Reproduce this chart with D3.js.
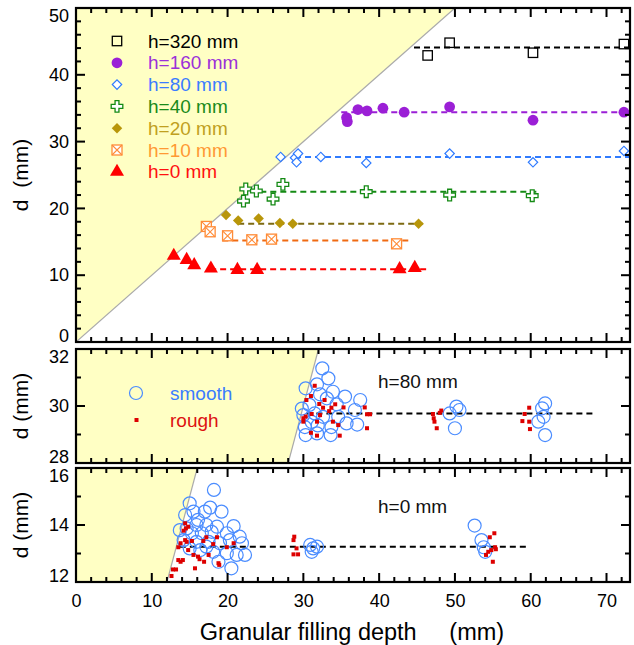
<!DOCTYPE html>
<html>
<head>
<meta charset="utf-8">
<script src="https://cdn.jsdelivr.net/npm/d3@7"></script>
<style>
  body { margin: 0; background: #fff; }
  text { font-family: "Liberation Sans", Arial, sans-serif; }
</style>
</head>
<body>
<div id="chart"></div>
<script>
// ---- data ----
const seriesNames = ["h=320 mm", "h=160 mm", "h=80 mm", "h=40 mm", "h=20 mm", "h=10 mm", "h=0 mm"];

const h320 = [[46.4, 42.9], [49.3, 44.8], [60.3, 43.3], [72.3, 44.6]];
const h160 = [[35.7, 33.6], [35.8, 33.0], [37.2, 34.8], [38.4, 34.6], [40.5, 35.0], [43.3, 34.4], [49.3, 35.2], [60.3, 33.2], [72.3, 34.4]];
const h80 = [[27.0, 27.7], [28.9, 27.6], [29.3, 28.2], [29.1, 26.9], [32.3, 27.7], [38.3, 26.8], [49.3, 28.2], [60.3, 26.9], [72.3, 28.6]];
const h40 = [[22.4, 22.9], [23.8, 22.6], [22.1, 21.1], [26.0, 21.4], [27.3, 23.6], [38.3, 22.5], [49.3, 22.0], [60.2, 21.9]];
const h20 = [[19.8, 19.0], [21.4, 18.2], [24.1, 18.5], [26.9, 17.8], [28.6, 17.7], [45.2, 17.7]];
const h10 = [[17.2, 17.3], [17.7, 16.5], [20.0, 15.9], [23.2, 15.3], [25.8, 15.4], [42.3, 14.7]];
const h0 = [[12.9, 12.9], [14.6, 12.3], [15.6, 11.5], [17.8, 11.0], [21.3, 10.8], [23.9, 10.8], [42.7, 10.9], [44.7, 11.1]];

// mean lines: [d, xStart, xEnd]
const meanLines = [[44.1, 44.6, 73], [34.4, 35.0, 73], [27.7, 28.9, 73], [22.5, 23.0, 60.8], [17.7, 21.4, 45.8], [15.2, 19.3, 44.1], [10.9, 17.7, 46.2]];

// h=80 mm panel
const smooth80 = [[32.5, 31.32], [33.3, 30.97], [31.8, 30.76], [30.3, 30.62], [33.9, 30.5], [35.5, 30.33], [37.5, 30.21], [32.2, 30.41],
  [30.8, 30.04], [33.1, 30.27], [34.4, 30.06], [36.8, 29.86], [30.0, 29.68], [31.5, 29.74], [32.6, 29.62], [34.6, 29.62],
  [35.7, 29.39], [37.1, 29.35], [30.2, 29.26], [31.9, 29.32], [33.7, 29.26], [30.3, 28.98], [31.8, 29.04], [33.6, 28.98],
  [31.1, 29.44], [29.8, 29.91],
  [50.2, 29.98], [50.6, 29.86], [49.3, 29.74], [50.0, 29.22],
  [61.9, 30.09], [61.5, 29.92], [61.7, 29.62], [61.0, 29.45], [61.9, 28.98]];
const rough80 = [[31.5, 30.71], [31.0, 30.35], [30.4, 30.21], [32.8, 30.21], [32.1, 30.07], [32.6, 29.94], [33.7, 29.94], [33.4, 29.82],
  [35.3, 29.95], [34.2, 30.06], [32.2, 29.68], [31.1, 29.72], [30.3, 29.63], [30.0, 29.57], [30.0, 29.45], [31.8, 29.45],
  [33.9, 29.45], [34.6, 29.33], [31.0, 29.06], [31.8, 28.96], [34.8, 28.96], [38.4, 29.22], [38.1, 29.95], [38.8, 29.71], [38.4, 29.71],
  [47.1, 29.72], [47.2, 29.57], [47.3, 29.45], [47.6, 29.22], [48.2, 29.84], [48.0, 29.76],
  [59.8, 29.94], [59.2, 29.72], [58.9, 29.47], [59.8, 29.45], [59.9, 29.19]];
const mean80 = [29.74, 30.4, 68.5];

// h=0 mm panel
const smooth0 = [[18.2, 15.23], [15.0, 14.76], [15.5, 14.47], [17.0, 14.47], [19.2, 14.47], [17.7, 14.61], [14.4, 14.35], [16.1, 14.18],
  [14.6, 13.88], [15.9, 14.0], [17.2, 14.0], [18.6, 13.94], [20.8, 13.96], [13.7, 13.82], [15.3, 13.71], [16.6, 13.71],
  [17.9, 13.76], [19.9, 13.71], [21.6, 13.59], [14.2, 13.47], [15.9, 13.41], [17.5, 13.41], [19.0, 13.36], [20.3, 13.47],
  [21.9, 13.36], [15.0, 13.18], [16.4, 13.12], [18.1, 13.06], [19.9, 13.01], [21.2, 12.95], [22.3, 12.95], [18.8, 12.71],
  [20.5, 12.48], [17.2, 13.24],
  [30.9, 13.3], [31.3, 13.18], [31.8, 13.24], [31.1, 13.06],
  [52.6, 13.98], [53.5, 13.47], [53.8, 13.22], [54.0, 13.06]];
const rough0 = [[12.6, 12.21], [12.8, 12.44], [13.2, 12.44], [13.5, 12.77], [13.8, 12.71], [14.1, 12.77], [13.5, 13.22], [13.8, 13.36],
  [14.4, 13.47], [14.6, 13.41], [14.2, 13.8], [14.5, 13.88], [14.8, 13.94], [14.4, 14.06], [15.3, 13.44], [14.8, 13.12],
  [15.5, 12.95], [15.7, 12.48], [16.1, 12.89], [16.3, 12.8], [16.9, 12.71], [16.8, 13.44], [17.2, 13.57], [17.5, 12.95],
  [18.1, 13.33], [18.6, 13.57], [18.8, 12.66], [18.9, 12.6], [19.9, 13.22], [20.8, 13.36],
  [28.8, 13.59], [28.7, 13.47], [29.1, 13.18], [28.7, 12.97], [29.3, 12.97],
  [55.2, 13.71], [54.6, 13.57], [55.3, 13.22], [54.8, 13.12], [54.4, 13.06], [54.1, 12.95], [55.0, 12.71], [55.4, 13.15]];
const mean0 = [13.24, 13.7, 59.5];

const xTicks = [0, 10, 20, 30, 40, 50, 60, 70];
const yTicksTop = [0, 10, 20, 30, 40, 50];
const yTicksMid = [28, 30, 32];
const yTicksBot = [12, 14, 16];

// ---- layout ----
const W = 634, H = 645;
const L = 76, R = 630;
const svg = d3.select("#chart").append("svg").attr("width", W).attr("height", H);

const x = d3.scaleLinear().domain([0, 73.1]).range([L, R]);

const panels = [
  { top: 8, bottom: 342, dom: [0, 50], major: yTicksTop, minorStep: 2 },
  { top: 349, bottom: 463, dom: [28, 32], major: yTicksMid, minorStep: 1 },
  { top: 468, bottom: 582, dom: [12, 16], major: yTicksBot, minorStep: 1 }
];
panels.forEach(p => { p.y = d3.scaleLinear().domain(p.dom).range([p.bottom, p.top]); });

const clipIds = panels.map((p, i) => {
  svg.append("clipPath").attr("id", "clip" + i).append("rect")
    .attr("x", L).attr("y", p.top).attr("width", R - L).attr("height", p.bottom - p.top);
  return "url(#clip" + i + ")";
});

// yellow region d > x and diagonal line
panels.forEach((p, i) => {
  const g = svg.append("g").attr("clip-path", clipIds[i]);
  const d0 = p.dom[0], d1 = p.dom[1];
  g.append("path")
    .attr("d", `M${x(0)},${p.y(d0)} L${x(d0)},${p.y(d0)} L${x(d1)},${p.y(d1)} L${x(0)},${p.y(d1)} Z`)
    .attr("fill", "#ffffc4");
  g.append("line")
    .attr("x1", x(d0)).attr("y1", p.y(d0)).attr("x2", x(d1)).attr("y2", p.y(d1))
    .attr("stroke", "#aaa").attr("stroke-width", 1.2);
});

// ---- top panel series ----
const P0 = panels[0];
const colors = {
  marker: ["#000", "#9b1fd6", "#2f7bff", "#148a14", "#b8960a", "#ff8c38", "#ff0000"],
  line: ["#000", "#9b1fd6", "#2f7bff", "#148a14", "#7d6a12", "#f06a12", "#ff0000"],
  text: ["#000", "#9b30d9", "#3a7cff", "#1a8a1a", "#c0a020", "#ff9933", "#ff1010"]
};
const allSeries = [h320, h160, h80, h40, h20, h10, h0];

const gTop = svg.append("g").attr("clip-path", clipIds[0]);
meanLines.forEach((m, i) => {
  gTop.append("line")
    .attr("x1", x(m[1])).attr("x2", x(m[2])).attr("y1", P0.y(m[0])).attr("y2", P0.y(m[0]))
    .attr("stroke", colors.line[i]).attr("stroke-width", 2).attr("stroke-dasharray", "6,4");
});

function drawMarker(g, i, cx, cy) {
  const c = colors.marker[i];
  const t = `translate(${cx},${cy})`;
  if (i === 0) {
    g.append("rect").attr("x", cx - 4.7).attr("y", cy - 4.7).attr("width", 9.4).attr("height", 9.4)
      .attr("fill", "none").attr("stroke", c).attr("stroke-width", 1.3);
  } else if (i === 1) {
    g.append("circle").attr("cx", cx).attr("cy", cy).attr("r", 5.4).attr("fill", c);
  } else if (i === 2) {
    g.append("path").attr("d", d3.symbol(d3.symbolSquare, 44)()).attr("transform", t + " rotate(45)")
      .attr("fill", "#fff").attr("stroke", c).attr("stroke-width", 1.2);
  } else if (i === 3) {
    g.append("path").attr("d", d3.symbol(d3.symbolCross, 75)()).attr("transform", t)
      .attr("fill", "#fff").attr("stroke", c).attr("stroke-width", 1.3);
  } else if (i === 4) {
    g.append("path").attr("d", d3.symbol(d3.symbolSquare, 55)()).attr("transform", t + " rotate(45)")
      .attr("fill", c);
  } else if (i === 5) {
    g.append("rect").attr("x", cx - 5).attr("y", cy - 5).attr("width", 10).attr("height", 10)
      .attr("fill", "#fff").attr("stroke", c).attr("stroke-width", 1.3);
    g.append("path").attr("d", `M${cx - 5},${cy - 5}L${cx + 5},${cy + 5}M${cx + 5},${cy - 5}L${cx - 5},${cy + 5}`)
      .attr("stroke", c).attr("stroke-width", 1.1);
  } else {
    g.append("path").attr("d", d3.symbol(d3.symbolTriangle, 85)()).attr("transform", t)
      .attr("fill", c);
  }
}

allSeries.forEach((s, i) => {
  s.forEach(d => drawMarker(gTop, i, x(d[0]), P0.y(d[1])));
});

// legend
seriesNames.forEach((name, i) => {
  const yy = 41 + i * 21.8;
  drawMarker(svg, i, 117, yy);
  svg.append("text").attr("x", 148).attr("y", yy + 6.5).attr("font-size", 19)
    .attr("fill", colors.text[i]).text(name);
});

// ---- scatter panels ----
function drawScatter(p, idx, smooth, rough, mean, label) {
  const g = svg.append("g").attr("clip-path", clipIds[idx]);
  g.append("line")
    .attr("x1", x(mean[1])).attr("x2", x(mean[2])).attr("y1", p.y(mean[0])).attr("y2", p.y(mean[0]))
    .attr("stroke", "#000").attr("stroke-width", 2).attr("stroke-dasharray", "6,4");
  g.selectAll("circle.s").data(smooth).join("circle")
    .attr("cx", d => x(d[0])).attr("cy", d => p.y(d[1])).attr("r", 6.5)
    .attr("fill", "none").attr("stroke", "#4a8cff").attr("stroke-width", 1.2);
  g.selectAll("rect.r").data(rough).join("rect")
    .attr("x", d => x(d[0]) - 2).attr("y", d => p.y(d[1]) - 2).attr("width", 4).attr("height", 4)
    .attr("fill", "#dd0000");
  svg.append("text").attr("x", 378).attr("y", label[1]).attr("font-size", 19).attr("fill", "#111").text(label[0]);
}
drawScatter(panels[1], 1, smooth80, rough80, mean80, ["h=80 mm", 388]);
drawScatter(panels[2], 2, smooth0, rough0, mean0, ["h=0 mm", 513]);

// legend of middle panel
svg.append("circle").attr("cx", 136).attr("cy", 393).attr("r", 6.5)
  .attr("fill", "none").attr("stroke", "#4a8cff").attr("stroke-width", 1.2);
svg.append("text").attr("x", 170).attr("y", 399.5).attr("font-size", 19).attr("fill", "#3a7cff").text("smooth");
svg.append("rect").attr("x", 134.5).attr("y", 418).attr("width", 4).attr("height", 4).attr("fill", "#dd0000");
svg.append("text").attr("x", 170).attr("y", 426.5).attr("font-size", 19).attr("fill", "#dd1111").text("rough");

// ---- axes and frames ----
const xMinor = d3.range(0, 73.1, 2).filter(v => v % 10 !== 0);

panels.forEach((p, i) => {
  const yMinor = d3.range(p.dom[0], p.dom[1] + 0.01, p.minorStep).filter(v => !p.major.includes(v));
  const isLast = i === panels.length - 1;

  svg.append("rect").attr("x", L).attr("y", p.top).attr("width", R - L).attr("height", p.bottom - p.top)
    .attr("fill", "none").attr("stroke", "#000").attr("stroke-width", 2.2);

  // inward ticks on all four sides
  const tk = svg.append("g").attr("fill", "#000");
  [[xTicks, 9], [xMinor, 5]].forEach(([vals, len]) => {
    const inside = vals.filter(v => x(v) > L + 1 && x(v) < R - 1);
    inside.forEach(v => {
      tk.append("rect").attr("x", x(v) - 1).attr("y", p.bottom - len).attr("width", 2).attr("height", len);
      tk.append("rect").attr("x", x(v) - 1).attr("y", p.top).attr("width", 2).attr("height", len);
    });
  });
  [[p.major, 9], [yMinor, 5]].forEach(([vals, len]) => {
    const inner = vals.filter(v => v > p.dom[0] && v < p.dom[1]);
    inner.forEach(v => {
      tk.append("rect").attr("x", L).attr("y", p.y(v) - 1).attr("width", len).attr("height", 2);
      tk.append("rect").attr("x", R - len).attr("y", p.y(v) - 1).attr("width", len).attr("height", 2);
    });
  });

  // labels through d3 axes (no tick lines)
  const gy = svg.append("g").attr("transform", `translate(${L},0)`)
    .call(d3.axisLeft(p.y).tickValues(p.major).tickSize(0).tickPadding(7).tickFormat(d3.format("d")));
  gy.select(".domain").remove();
  gy.selectAll(".tick text").attr("font-size", 18).attr("fill", "#000")
    .attr("font-family", "Liberation Sans, Arial, sans-serif")
    .attr("dy", d => d === p.dom[1] ? "0.75em" : d === p.dom[0] ? "-0.05em" : "0.32em");

  if (isLast) {
    const gx = svg.append("g").attr("transform", `translate(0,${p.bottom})`)
      .call(d3.axisBottom(x).tickValues(xTicks).tickSize(0).tickPadding(12).tickFormat(d3.format("d")));
    gx.select(".domain").remove();
    gx.selectAll(".tick text").attr("font-size", 18).attr("fill", "#000")
      .attr("font-family", "Liberation Sans, Arial, sans-serif");
  }
});

// axis titles
svg.append("text").attr("transform", `translate(28,${(8 + 342) / 2}) rotate(-90)`)
  .attr("text-anchor", "middle").attr("font-size", 21).attr("xml:space", "preserve").text("d  (mm)");
svg.append("text").attr("transform", `translate(28,406) rotate(-90)`)
  .attr("text-anchor", "middle").attr("font-size", 21).text("d (mm)");
svg.append("text").attr("transform", `translate(28,525) rotate(-90)`)
  .attr("text-anchor", "middle").attr("font-size", 21).text("d (mm)");
svg.append("text").attr("x", 352).attr("y", 640).attr("text-anchor", "middle").attr("font-size", 23.5)
  .attr("xml:space", "preserve").text("Granular filling depth     (mm)");
</script>
</body>
</html>
